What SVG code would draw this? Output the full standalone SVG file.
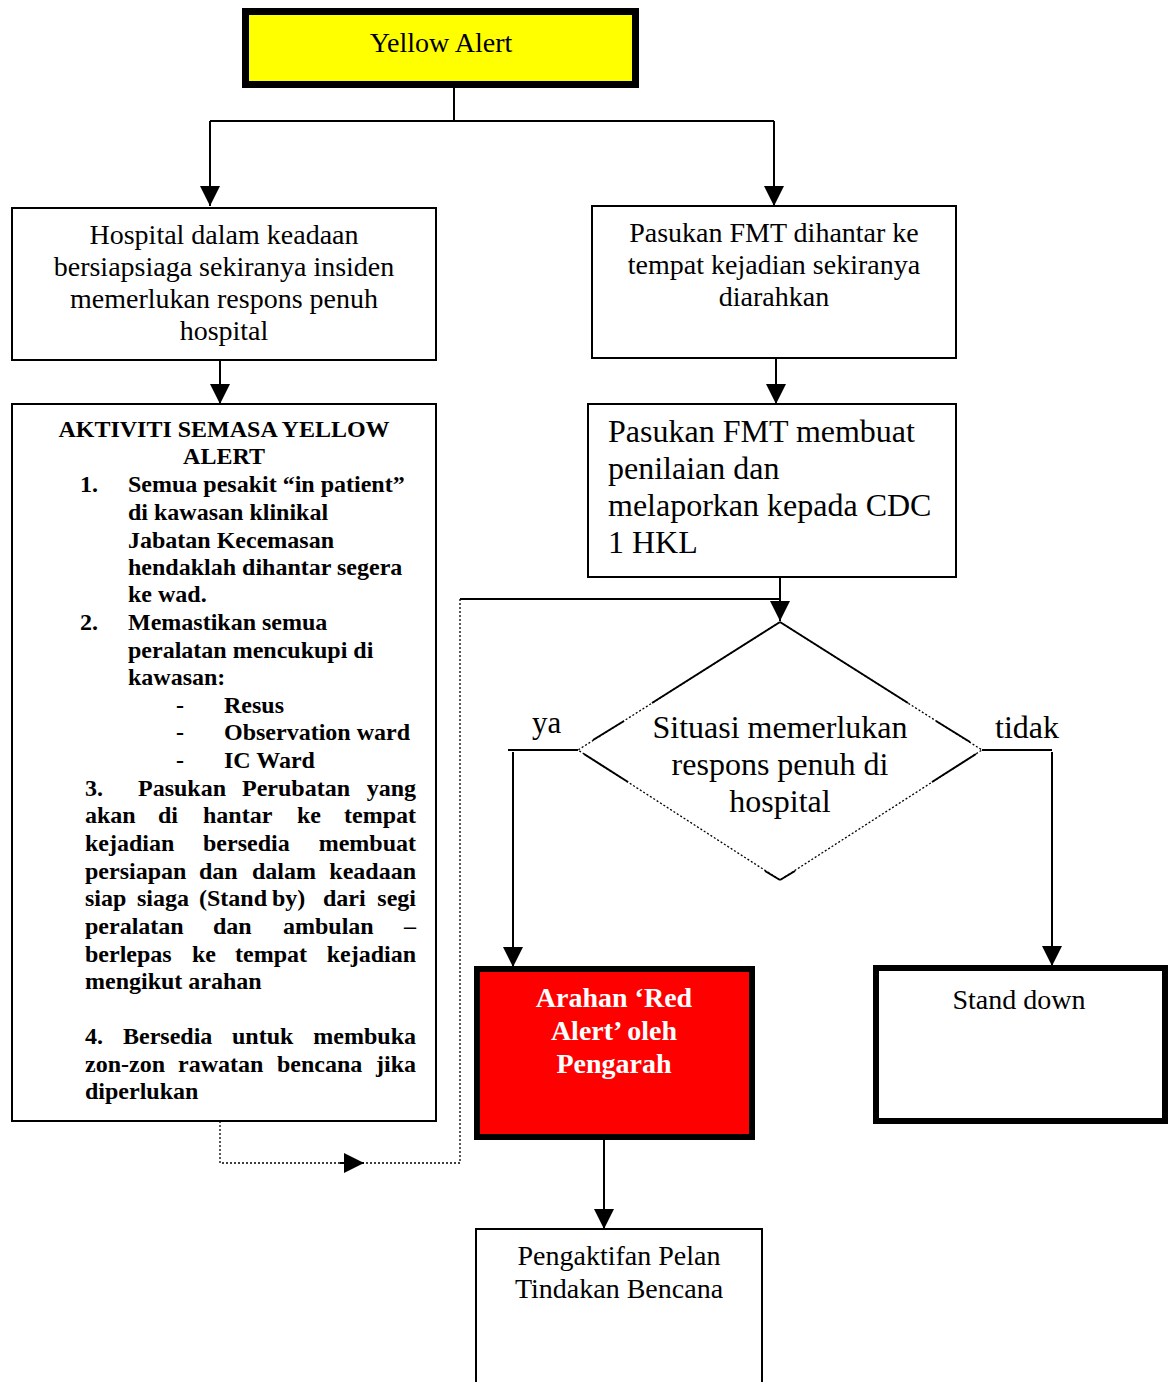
<svg xmlns="http://www.w3.org/2000/svg" width="1173" height="1382" viewBox="0 0 1173 1382">
<style>
.t{font-family:"Liberation Serif","Times New Roman",serif;fill:#000}
.c{text-anchor:middle}
.e{text-anchor:end}
.b{font-weight:bold}
.ln{stroke:#000;stroke-width:2;fill:none}
.dot{stroke:#000;stroke-width:1.3;fill:none;stroke-dasharray:2,2}
.box{fill:#fff;stroke:#000;stroke-width:2}
</style>
<defs>
<marker id="a" viewBox="0 0 20 20" refX="20" refY="10" markerWidth="20" markerHeight="20" orient="auto" markerUnits="userSpaceOnUse">
<path d="M0,0 L20,10 L0,20 z" fill="#000"/>
</marker>
</defs>

<g id="connectors">
<polyline class="ln" points="454,88 454,121"/>
<polyline class="ln" points="210,121 774,121"/>
<line class="ln" x1="210" y1="121" x2="210" y2="206" marker-end="url(#a)"/>
<line class="ln" x1="774" y1="121" x2="774" y2="206" marker-end="url(#a)"/>
<line class="ln" x1="220" y1="360" x2="220" y2="404" marker-end="url(#a)"/>
<line class="ln" x1="776" y1="358" x2="776" y2="404" marker-end="url(#a)"/>
<line class="ln" x1="780" y1="577" x2="780" y2="621" marker-end="url(#a)"/>
<polyline class="ln" points="460,599 780,599"/>
<polyline class="dot" points="220,1121 220,1163 460,1163 460,599"/>
<line class="ln" x1="340" y1="1163" x2="364" y2="1163" marker-end="url(#a)"/>
<polyline class="ln" points="578,750 508,750"/>
<line class="ln" x1="513" y1="752" x2="513" y2="967" marker-end="url(#a)"/>
<polyline class="ln" points="982,750 1052,750"/>
<line class="ln" x1="1052" y1="752" x2="1052" y2="966" marker-end="url(#a)"/>
<line class="ln" x1="604" y1="1140" x2="604" y2="1229" marker-end="url(#a)"/>
</g>

<g id="yellow-alert">
<rect x="245.5" y="11.5" width="390" height="73" fill="#ffff00" stroke="#000" stroke-width="7"/>
<text class="t c" x="441" y="52" font-size="28">Yellow Alert</text>
</g>

<g id="hospital">
<rect class="box" x="12" y="208" width="424" height="152"/>
<text class="t c" font-size="28"><tspan x="224" y="244">Hospital dalam keadaan</tspan><tspan x="224" y="276">bersiapsiaga sekiranya insiden</tspan><tspan x="224" y="308">memerlukan respons penuh</tspan><tspan x="224" y="340">hospital</tspan></text>
</g>

<g id="fmt-dihantar">
<rect class="box" x="592" y="206" width="364" height="152"/>
<text class="t c" font-size="28"><tspan x="774" y="242">Pasukan FMT dihantar ke</tspan><tspan x="774" y="274">tempat kejadian sekiranya</tspan><tspan x="774" y="306">diarahkan</tspan></text>
</g>

<g id="aktiviti">
<rect class="box" x="12" y="404" width="424" height="717"/>
<g class="t b" font-size="24">
<text class="c" x="224" y="437">AKTIVITI SEMASA YELLOW</text>
<text class="c" x="224" y="464">ALERT</text>
<text x="80" y="492">1.</text>
<text x="128" y="492">Semua pesakit “in patient”</text>
<text x="128" y="520">di kawasan klinikal</text>
<text x="128" y="548">Jabatan Kecemasan</text>
<text x="128" y="575">hendaklah dihantar segera</text>
<text x="128" y="602">ke wad.</text>
<text x="80" y="630">2.</text>
<text x="128" y="630">Memastikan semua</text>
<text x="128" y="658">peralatan mencukupi di</text>
<text x="128" y="685">kawasan:</text>
<text x="176" y="713">-</text><text x="224" y="713">Resus</text>
<text x="176" y="740">-</text><text x="224" y="740">Observation ward</text>
<text x="176" y="768">-</text><text x="224" y="768">IC Ward</text>
<text y="796"><tspan x="85">3.</tspan><tspan x="138">Pasukan</tspan><tspan x="242">Perubatan</tspan></text><text class="e" x="416" y="796">yang</text>
<text y="823"><tspan x="85">akan</tspan><tspan x="158">di</tspan><tspan x="203">hantar</tspan><tspan x="297">ke</tspan></text><text class="e" x="416" y="823">tempat</text>
<text y="851"><tspan x="85">kejadian</tspan><tspan x="203">bersedia</tspan></text><text class="e" x="416" y="851">membuat</text>
<text y="879"><tspan x="85">persiapan</tspan><tspan x="199">dan</tspan><tspan x="252">dalam</tspan></text><text class="e" x="416" y="879">keadaan</text>
<text y="906"><tspan x="85">siap</tspan><tspan x="137">siaga</tspan><tspan x="199">(Stand</tspan><tspan x="272">by)</tspan><tspan x="323">dari</tspan></text><text class="e" x="416" y="906">segi</text>
<text y="934"><tspan x="85">peralatan</tspan><tspan x="213">dan</tspan><tspan x="283">ambulan</tspan></text><text class="e" x="416" y="934">–</text>
<text y="962"><tspan x="85">berlepas</tspan><tspan x="192">ke</tspan><tspan x="235">tempat</tspan></text><text class="e" x="416" y="962">kejadian</text>
<text x="85" y="989">mengikut arahan</text>
<text y="1044"><tspan x="85">4.</tspan><tspan x="123">Bersedia</tspan><tspan x="232">untuk</tspan></text><text class="e" x="416" y="1044">membuka</text>
<text y="1072"><tspan x="85">zon-zon</tspan><tspan x="178">rawatan</tspan><tspan x="277">bencana</tspan></text><text class="e" x="416" y="1072">jika</text>
<text x="85" y="1099">diperlukan</text>
</g>
</g>

<g id="fmt-penilaian">
<rect class="box" x="588" y="404" width="368" height="173"/>
<text class="t" font-size="32"><tspan x="608" y="442">Pasukan FMT membuat</tspan><tspan x="608" y="479">penilaian dan</tspan><tspan x="608" y="516">melaporkan kepada CDC</tspan><tspan x="608" y="553">1 HKL</tspan></text>
</g>

<g id="situasi">
<polygon class="dot" points="780,622 982,750 780,880 578,750"/>
<g class="ln">
<line x1="780" y1="622" x2="652" y2="703"/>
<line x1="624" y1="721" x2="593" y2="740"/>
<line x1="780" y1="622" x2="908" y2="703"/>
<line x1="936" y1="721" x2="970" y2="742"/>
<line x1="584" y1="754" x2="628" y2="782"/>
<line x1="976" y1="754" x2="932" y2="782"/>
<line x1="765" y1="871" x2="780" y2="880"/>
<line x1="795" y1="871" x2="780" y2="880"/>
</g>
<text class="t c" font-size="32"><tspan x="780" y="738">Situasi memerlukan</tspan><tspan x="780" y="775">respons penuh di</tspan><tspan x="780" y="812">hospital</tspan></text>
<text class="t" font-size="31" x="532" y="733">ya</text>
<text class="t" font-size="32" x="995" y="738">tidak</text>
</g>

<g id="red-alert">
<rect x="477" y="969" width="275" height="168" fill="#ff0000" stroke="#000" stroke-width="6"/>
<text class="t c b" font-size="28" style="fill:#fff"><tspan x="614" y="1007">Arahan ‘Red</tspan><tspan x="614" y="1040">Alert’ oleh</tspan><tspan x="614" y="1073">Pengarah</tspan></text>
</g>

<g id="stand-down">
<rect x="876" y="968" width="289" height="153" fill="#fff" stroke="#000" stroke-width="6"/>
<text class="t c" font-size="28" x="1019" y="1009">Stand down</text>
</g>

<g id="pengaktifan">
<rect class="box" x="476" y="1229" width="286" height="160"/>
<text class="t c" font-size="28"><tspan x="619" y="1265">Pengaktifan Pelan</tspan><tspan x="619" y="1298">Tindakan Bencana</tspan></text>
</g>
</svg>
